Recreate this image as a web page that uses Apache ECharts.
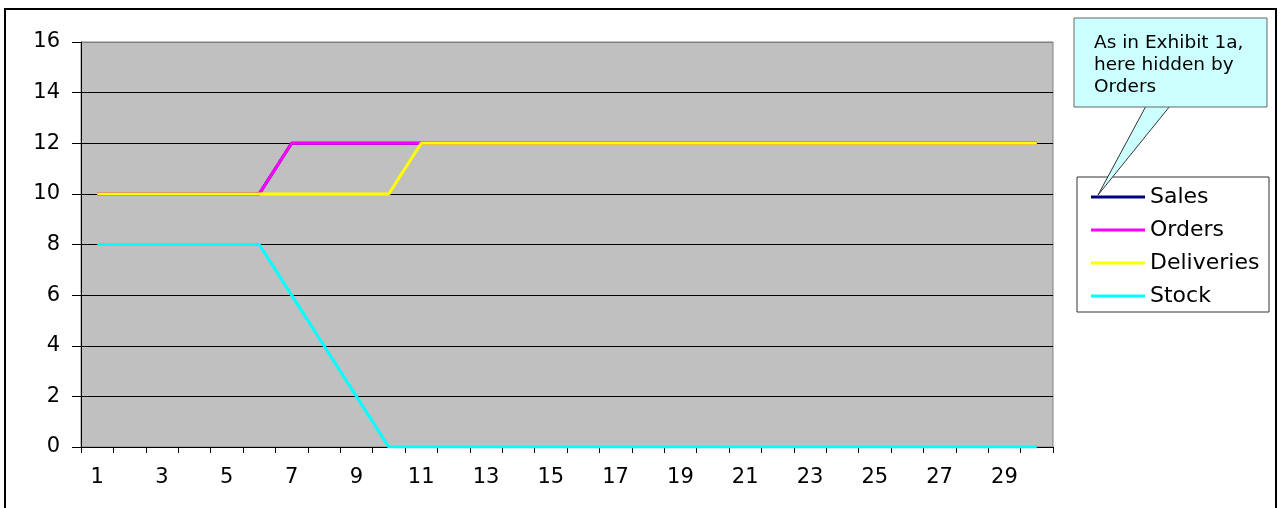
<!DOCTYPE html>
<html>
<head>
<meta charset="utf-8">
<script src="https://cdn.jsdelivr.net/npm/echarts@6/dist/echarts.min.js"></script>
<style>
  html, body { margin: 0; padding: 0; background: #fff; }
  #chart { width: 1279px; height: 508px; }
</style>
</head>
<body>
<div id="chart"></div>
<script>
// periods 1..30
const periods = Array.from({ length: 30 }, (_, i) => String(i + 1));

const sales      = [10,10,10,10,10,10,12,12,12,12,12,12,12,12,12,12,12,12,12,12,12,12,12,12,12,12,12,12,12,12];
const orders     = [10,10,10,10,10,10,12,12,12,12,12,12,12,12,12,12,12,12,12,12,12,12,12,12,12,12,12,12,12,12];
const deliveries = [10,10,10,10,10,10,10,10,10,10,12,12,12,12,12,12,12,12,12,12,12,12,12,12,12,12,12,12,12,12];
const stock      = [8,8,8,8,8,8,6,4,2,0,0,0,0,0,0,0,0,0,0,0,0,0,0,0,0,0,0,0,0,0];

const seriesNames = ['Sales', 'Orders', 'Deliveries', 'Stock'];
const seriesColors = ['#000080', '#FF00FF', '#FFFF00', '#00FFFF'];
const calloutText = 'As in Exhibit 1a,\nhere hidden by\nOrders';

const font = '"DejaVu Sans", Verdana, sans-serif';

const chart = echarts.init(document.getElementById('chart'));

const mkLine = (name, data, i) => ({
  name: name,
  type: 'line',
  data: data,
  symbol: 'none',
  animation: false,
  lineStyle: { color: seriesColors[i], width: 3 },
  itemStyle: { color: seriesColors[i] },
  z: 2 + i
});

chart.setOption({
  animation: false,
  grid: {
    left: 81, top: 42, right: 226, bottom: 61,
    show: true,
    backgroundColor: '#C0C0C0',
    borderColor: '#808080',
    borderWidth: 1
  },
  legend: {
    orient: 'vertical',
    left: 1086,
    top: 181,
    icon: 'rect',
    itemWidth: 54,
    itemHeight: 3,
    itemGap: 11,
    data: seriesNames,
    textStyle: { fontFamily: font, fontSize: 22, lineHeight: 22, color: '#000' }
  },
  xAxis: {
    type: 'category',
    data: periods,
    boundaryGap: true,
    axisLine: { lineStyle: { color: '#000', width: 1 } },
    axisTick: { show: true, interval: 0, length: 6, lineStyle: { color: '#000' } },
    axisLabel: { interval: 1, margin: 20, fontFamily: font, fontSize: 21, color: '#000' },
    splitLine: { show: false }
  },
  yAxis: {
    type: 'value',
    min: 0, max: 16, interval: 2,
    axisLine: { show: true, lineStyle: { color: '#000', width: 1 } },
    axisTick: { show: true, length: 9, lineStyle: { color: '#000' } },
    axisLabel: { margin: 21, fontFamily: font, fontSize: 21, color: '#000' },
    splitLine: {
      show: true,
      lineStyle: { color: ['#000','#000','#000','#000','#000','#000','#000','#000','#808080'], width: 1 }
    }
  },
  series: [
    mkLine('Sales', sales, 0),
    mkLine('Orders', orders, 1),
    mkLine('Deliveries', deliveries, 2),
    mkLine('Stock', stock, 3)
  ],
  graphic: [
    // outer chart frame
    { type: 'rect', shape: { x: 5, y: 9, width: 1271, height: 510 },
      style: { fill: 'none', stroke: '#000', lineWidth: 2 }, silent: true, z: 1 },
    // legend box
    { type: 'rect', shape: { x: 1077, y: 177, width: 192, height: 135 },
      style: { fill: 'none', stroke: '#333', lineWidth: 1 }, silent: true, z: 1 },
    // callout pointer
    { type: 'polygon', shape: { points: [[1146, 106], [1170, 106], [1098, 195]] },
      style: { fill: '#CCFFFF', stroke: '#333', lineWidth: 1 }, silent: true, z: 20 },
    // callout box
    { type: 'rect', shape: { x: 1074, y: 18, width: 193, height: 89 },
      style: { fill: '#CCFFFF', stroke: '#666', lineWidth: 1 }, silent: true, z: 21 },
    { type: 'text', x: 1094, y: 32, z: 22, silent: true,
      style: { text: calloutText, fontFamily: font, fontSize: 18.5, lineHeight: 22,
               fill: '#000', verticalAlign: 'top', align: 'left' } }
  ]
});
</script>
</body>
</html>
